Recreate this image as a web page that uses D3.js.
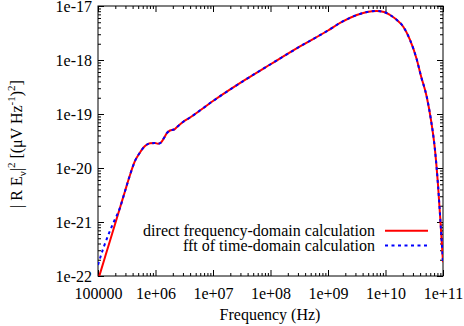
<!DOCTYPE html>
<html><head><meta charset="utf-8">
<script src="https://cdn.jsdelivr.net/npm/d3@7"></script>
<style>
html,body{margin:0;padding:0;background:#fff;}
svg text{font-family:"Liberation Serif","Times New Roman",Tinos,"DejaVu Serif",serif !important;}
</style></head>
<body><svg id="c" width="464" height="326"></svg>
<script>
// ---- data ----
const directFreq = [1.053e5,1.323e5,1.617e5,1.976e5,2.413e5,2.949e5,3.602e5,4.4e5,5.376e5,6.568e5,8.023e5,9.8e5,1.105e6,1.246e6,1.405e6,1.585e6,1.787e6,2.098e6,2.365e6,3.008e6,3.981e6,1.0e7,3.6e7,1.02e8,3.26e8,1.0e9,1.65e9,3.16e9,4.76e9,7.03e9,9.42e9,1.2e10,1.58e10,2.04e10,2.67e10,3.49e10,4.14e10,5.21e10,6.18e10,7.26e10,8.19e10,9.23e10,1.0e11];
const directValue = [1.0e-22,2.23e-22,4.51e-22,9.1e-22,1.84e-21,3.72e-21,7.41e-21,1.35e-20,1.94e-20,2.55e-20,2.86e-20,2.9e-20,2.81e-20,2.96e-20,3.59e-20,4.45e-20,4.95e-20,5.16e-20,5.74e-20,7.11e-20,8.61e-20,1.74e-19,4.27e-19,8.43e-19,1.78e-18,3.52e-18,4.91e-18,6.81e-18,7.74e-18,8.08e-18,7.74e-18,6.81e-18,5.5e-18,4.14e-18,2.35e-18,1.03e-18,5.05e-19,2.09e-19,7.74e-20,2.15e-20,4.84e-21,7.1e-22,1.8e-22];
const fftFreq = [1.0e5,1.236e5,1.511e5,1.845e5,2.413e5,2.949e5,3.602e5,4.4e5,5.376e5,6.568e5,8.023e5,9.8e5,1.105e6,1.246e6,1.405e6,1.585e6,1.787e6,2.098e6,2.365e6,3.008e6,3.981e6,1.0e7,3.6e7,1.02e8,3.26e8,1.0e9,1.65e9,3.16e9,4.76e9,7.03e9,9.42e9,1.2e10,1.58e10,2.04e10,2.67e10,3.49e10,4.14e10,5.21e10,6.18e10,7.26e10,8.19e10,9.23e10,1.0e11];
const fftValue = [1.6e-22,3.26e-22,5.74e-22,9.58e-22,1.84e-21,3.72e-21,7.41e-21,1.35e-20,1.94e-20,2.55e-20,2.86e-20,2.9e-20,2.81e-20,2.96e-20,3.59e-20,4.45e-20,4.95e-20,5.16e-20,5.74e-20,7.11e-20,8.61e-20,1.74e-19,4.27e-19,8.43e-19,1.78e-18,3.52e-18,4.91e-18,6.81e-18,7.74e-18,8.08e-18,7.74e-18,6.81e-18,5.5e-18,4.14e-18,2.35e-18,1.03e-18,5.05e-19,2.09e-19,7.74e-20,2.15e-20,4.84e-21,7.1e-22,1.8e-22];
const xTickValues = [1e5,1e6,1e7,1e8,1e9,1e10,1e11];
const xTickLabels = ["100000","1e+06","1e+07","1e+08","1e+09","1e+10","1e+11"];
const yTickValues = [1e-22,1e-21,1e-20,1e-19,1e-18,1e-17];
const yTickLabels = ["1e-22","1e-21","1e-20","1e-19","1e-18","1e-17"];
const seriesNames = ["direct frequency-domain calculation","fft of time-domain calculation"];

// ---- layout ----
const L=98, R=443, T=6, B=276;
const FONT="'Liberation Serif','Times New Roman',Tinos,'DejaVu Serif',serif";
const svg=d3.select("#c");
const x=d3.scaleLog().domain([1e5,1e11]).range([L,R]);
const y=d3.scaleLog().domain([1e-22,1e-17]).range([B,T]);

const xMinor=[], yMinor=[];
for(let e=5;e<11;e++) for(let k=2;k<10;k++) xMinor.push(k*Math.pow(10,e));
for(let e=-22;e<-17;e++) for(let k=2;k<10;k++) yMinor.push(k*Math.pow(10,e));

const fs=16;
function axisStyle(g){g.attr("font-family",FONT).attr("font-size",fs);g.select(".domain").remove();g.selectAll("line").attr("stroke","#000");g.selectAll("text").attr("font-size",fs).attr("fill","#000").attr("font-family",FONT);}

svg.append("g").attr("transform",`translate(0,${B})`)
 .call(d3.axisBottom(x).tickValues(xTickValues).tickFormat((d,i)=>xTickLabels[i]).tickSizeInner(-6).tickPadding(12))
 .call(axisStyle);
svg.append("g").attr("transform",`translate(0,${B})`)
 .call(d3.axisBottom(x).tickValues(xMinor).tickFormat("").tickSizeInner(-3).tickSizeOuter(0)).call(axisStyle);
svg.append("g").attr("transform",`translate(0,${T})`)
 .call(d3.axisTop(x).tickValues(xTickValues).tickFormat("").tickSizeInner(-6).tickSizeOuter(0)).call(axisStyle);
svg.append("g").attr("transform",`translate(0,${T})`)
 .call(d3.axisTop(x).tickValues(xMinor).tickFormat("").tickSizeInner(-3).tickSizeOuter(0)).call(axisStyle);
svg.append("g").attr("transform",`translate(${L},0)`)
 .call(d3.axisLeft(y).tickValues(yTickValues).tickFormat((d,i)=>yTickLabels[i]).tickSizeInner(-6).tickPadding(6))
 .call(axisStyle);
svg.append("g").attr("transform",`translate(${L},0)`)
 .call(d3.axisLeft(y).tickValues(yMinor).tickFormat("").tickSizeInner(-3).tickSizeOuter(0)).call(axisStyle);
svg.append("g").attr("transform",`translate(${R},0)`)
 .call(d3.axisRight(y).tickValues(yTickValues).tickFormat("").tickSizeInner(-6).tickSizeOuter(0)).call(axisStyle);
svg.append("g").attr("transform",`translate(${R},0)`)
 .call(d3.axisRight(y).tickValues(yMinor).tickFormat("").tickSizeInner(-3).tickSizeOuter(0)).call(axisStyle);

svg.append("rect").attr("x",L).attr("y",T).attr("width",R-L).attr("height",B-T)
 .attr("fill","none").attr("stroke","#000").attr("stroke-width",1);

svg.append("defs").append("clipPath").attr("id","clip").append("rect").attr("x",L).attr("y",T).attr("width",R-L).attr("height",B-T);
const line=d3.line().x(d=>x(d[0])).y(d=>y(d[1])).curve(d3.curveMonotoneX);
const redData=directFreq.map((f,i)=>[f,directValue[i]]);
const blueData=fftFreq.map((f,i)=>[f,fftValue[i]]);
const plot=svg.append("g").attr("clip-path","url(#clip)");
plot.append("path").datum(redData).attr("d",line).attr("fill","none").attr("stroke","#ff0000").attr("stroke-width",2);
plot.append("path").datum(blueData).attr("d",line).attr("fill","none").attr("stroke","#0000ff").attr("stroke-width",2).attr("stroke-dasharray","3,3.5");

const leg=svg.append("g").attr("font-family",FONT);
const legY=[230.7,245.5];
[0,1].forEach(i=>{
  leg.append("text").attr("x",375).attr("y",legY[i]).attr("dy","0.35em").attr("text-anchor","end")
    .attr("font-size",fs).attr("font-family",FONT).text(seriesNames[i]);
});
leg.append("line").attr("x1",385).attr("x2",428).attr("y1",legY[0]).attr("y2",legY[0]).attr("stroke","#ff0000").attr("stroke-width",2);
leg.append("line").attr("x1",385).attr("x2",428).attr("y1",legY[1]).attr("y2",legY[1]).attr("stroke","#0000ff").attr("stroke-width",2).attr("stroke-dasharray","3,3.5");

svg.append("text").attr("x",270).attr("y",320).attr("text-anchor","middle").attr("font-size",fs).attr("font-family",FONT).text("Frequency (Hz)");
const yl=svg.append("text").attr("transform","translate(22,144) rotate(-90)").attr("text-anchor","middle").attr("font-size",fs).attr("font-family",FONT);
yl.append("tspan").text("| R E");
yl.append("tspan").attr("font-size",11).attr("dy",4).text("ν");
yl.append("tspan").attr("dy",-4).text("|");
yl.append("tspan").attr("font-size",11).attr("dy",-7).text("2");
yl.append("tspan").attr("dy",7).text(" [(μV Hz");
yl.append("tspan").attr("font-size",11).attr("dy",-7).text("-1");
yl.append("tspan").attr("dy",7).text(")");
yl.append("tspan").attr("font-size",11).attr("dy",-7).text("2");
yl.append("tspan").attr("dy",7).text("]");
</script></body></html>
